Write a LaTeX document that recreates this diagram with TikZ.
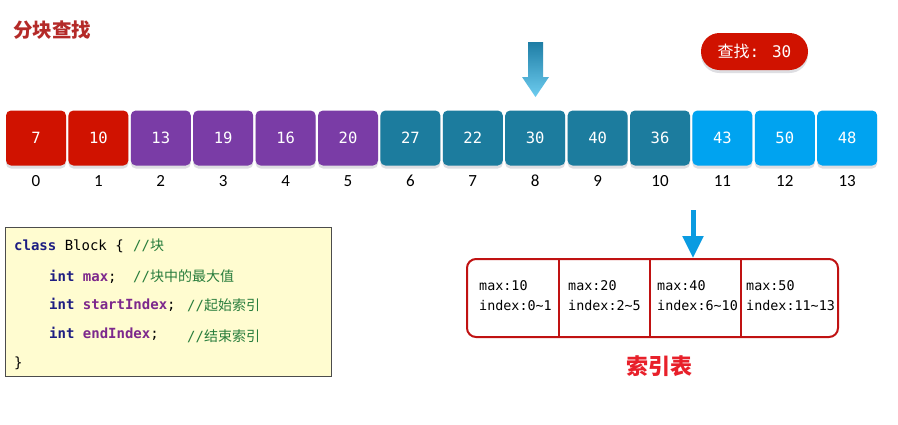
\documentclass[tikz,border=0pt]{standalone}
\usepackage{fontspec}
\setmainfont{Carlito}
\newfontfamily\cjk{Noto Sans CJK SC}
\newfontfamily\mono{DejaVu Sans Mono}
\usetikzlibrary{arrows.meta}
\definecolor{cR}{RGB}{208,18,0}
\definecolor{cP}{RGB}{122,60,166}
\definecolor{cT}{RGB}{28,124,158}
\definecolor{cB}{RGB}{0,163,240}
\definecolor{shd}{RGB}{222,222,226}
\definecolor{titlered}{RGB}{180,42,40}
\definecolor{codebg}{RGB}{255,252,208}
\definecolor{kw}{RGB}{30,30,130}
\definecolor{fld}{RGB}{125,40,140}
\definecolor{cmt}{RGB}{40,125,60}
\definecolor{tabred}{RGB}{192,18,18}
\definecolor{lblred}{RGB}{232,32,42}
\definecolor{arrblue}{RGB}{10,155,225}
\definecolor{arrtop}{RGB}{30,125,165}
\definecolor{arrbot}{RGB}{110,205,240}
\tikzset{
  cell/.style={rounded corners=5pt, minimum width=60pt, minimum height=55pt, inner sep=0pt, text=white, font=\mono\fontsize{15.5}{15.5}\selectfont},
  idx/.style={font=\fontsize{17}{17}\selectfont, inner sep=0pt},
  codeline/.style={anchor=base west, inner sep=0pt, font=\mono\fontsize{14}{14}\selectfont},
  tabtext/.style={anchor=north west, inner sep=0pt, align=left, font=\mono\fontsize{13.4}{20}\selectfont},
}
\begin{document}
\begin{tikzpicture}[x=1pt,y=-1pt]
\useasboundingbox[fill=white] (0,0) rectangle (898,424);
% title
\node[font=\cjk\bfseries\fontsize{19.5}{19.5}\selectfont, text=titlered, anchor=west, inner sep=0pt] (title) at (13,30) {分块查找};
% search pill
\fill[shd, rounded corners=18.5pt] (701,36) rectangle (808,73);
\node[fill=cR, rounded corners=18.5pt, minimum width=107pt, minimum height=37pt, inner sep=0pt, text=white, font=\fontsize{16}{16}\selectfont] (search) at (754.5,51.5) {{\cjk 查找}{\mono: 30}};
% big gradient arrow
\shade[top color=arrtop, bottom color=arrbot, draw=none]
  (528,42) -- (543,42) -- (543,77) -- (549,77) -- (535.5,97) -- (522,77) -- (528,77) -- cycle;
% cells
\foreach \v/\c [count=\i from 0] in {7/cR,10/cR,13/cP,19/cP,16/cP,20/cP,27/cT,22/cT,30/cT,40/cT,36/cT,43/cB,50/cB,48/cB}{
  \fill[shd, rounded corners=5pt] (6+62.4*\i,113.5) rectangle ++(60,55);
  \node[cell, fill=\c] (b\i) at (36+62.4*\i,138) {\v};
  \node[idx] (l\i) at (36+62.4*\i,181) {\i};
}
% code box
\node[draw=black!70, line width=0.8pt, fill=codebg, minimum width=326pt, minimum height=149pt, inner sep=0pt] (code) at (168.5,301.5) {};
\node[codeline] (c1) at (14,250) {{\color{kw}\bfseries class} Block \{ };
\node[codeline, text=cmt] (c1c) at (133,250) {//{\cjk 块}};
\node[codeline] (c2) at (49,281) {{\color{kw}\bfseries int} {\color{fld}\bfseries max};};
\node[codeline, text=cmt] (c2c) at (133,281) {//{\cjk 块中的最大值}};
\node[codeline] (c3) at (49,309) {{\color{kw}\bfseries int} {\color{fld}\bfseries startIndex};};
\node[codeline, text=cmt] (c3c) at (187,310) {//{\cjk 起始索引}};
\node[codeline] (c4) at (49,338) {{\color{kw}\bfseries int} {\color{fld}\bfseries endIndex};};
\node[codeline, text=cmt] (c4c) at (187,341) {//{\cjk 结束索引}};
\node[codeline] (c5) at (14,367) {\}};
% index table
\node[draw=tabred, line width=2pt, rounded corners=9pt, minimum width=371pt, minimum height=78pt, inner sep=0pt] (tab) at (652.5,298) {};
\draw[tabred, line width=2pt] (559,259) -- (559,337) (650,259) -- (650,337) (741,259) -- (741,337);
\node[tabtext] (t1) at (479,280) {max:10\\index:0\textasciitilde 1};
\node[tabtext] (t2) at (568,280) {max:20\\index:2\textasciitilde 5};
\node[tabtext] (t3) at (657,280) {max:40\\index:6\textasciitilde 10};
\node[tabtext] (t4) at (746,280) {max:50\\index:11\textasciitilde 13};
\node[font=\cjk\bfseries\fontsize{22}{22}\selectfont, text=lblred, inner sep=0pt] (lbl) at (659,366) {索引表};
% blue arrow to table
\coordinate (astart) at (693,210);
\draw[arrblue, line width=5pt, -{Triangle[width=20pt,length=22pt]}] (astart) -- (astart |- tab.north);
\end{tikzpicture}
\end{document}
